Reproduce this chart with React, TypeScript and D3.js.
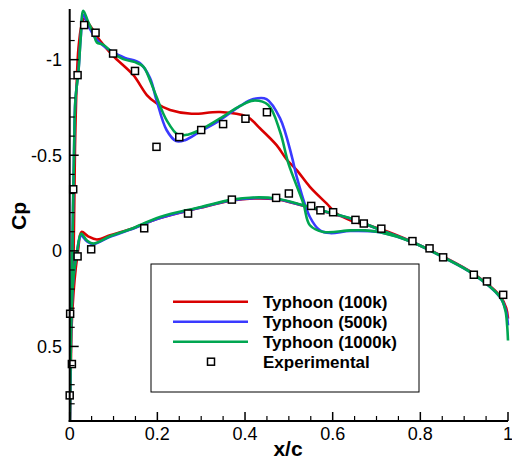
import React from "react";
import * as d3 from "d3";

type P = [number, number];

// x/c, Cp pairs, leading edge -> trailing edge
const typhoon100kUpper: P[] = [
  [0, 1.0], [0.004, 0.42], [0.009, 0.0], [0.012, -0.53], [0.016, -0.88], [0.02, -1.06],
  [0.027, -1.18], [0.033, -1.215], [0.046, -1.18], [0.069, -1.1], [0.099, -1.02],
  [0.145, -0.92], [0.176, -0.815], [0.198, -0.772], [0.229, -0.737], [0.278, -0.717],
  [0.343, -0.726], [0.404, -0.702], [0.434, -0.641], [0.472, -0.553], [0.495, -0.478],
  [0.518, -0.422], [0.548, -0.335], [0.586, -0.248], [0.609, -0.195], [0.64, -0.16],
  [0.71, -0.113], [0.781, -0.048], [0.852, 0.03], [0.922, 0.12], [0.982, 0.236],
  [0.996, 0.3], [1.0, 0.355],
];
const typhoon100kLower: P[] = [
  [0, 1.0], [0.004, 0.42], [0.011, 0.155], [0.019, 0.0], [0.027, -0.099], [0.042, -0.076],
  [0.062, -0.059], [0.092, -0.081], [0.138, -0.113], [0.206, -0.172], [0.297, -0.225],
  [0.37, -0.263], [0.419, -0.274], [0.471, -0.27], [0.533, -0.236], [0.601, -0.193],
  [0.651, -0.16], [0.71, -0.11], [0.781, -0.046], [0.852, 0.03], [0.922, 0.12],
  [0.982, 0.236], [0.996, 0.3], [1.0, 0.355],
];
const typhoon500kUpper: P[] = [
  [0, 1.0], [0.003, 0.42], [0.006, 0.0], [0.01, -0.53], [0.013, -0.79], [0.02, -0.94],
  [0.025, -1.11], [0.031, -1.235], [0.042, -1.18], [0.062, -1.104], [0.099, -1.039],
  [0.126, -1.009], [0.16, -0.982], [0.183, -0.905], [0.198, -0.789], [0.221, -0.632],
  [0.243, -0.574], [0.263, -0.579], [0.297, -0.623], [0.343, -0.684], [0.389, -0.758],
  [0.419, -0.794], [0.449, -0.794], [0.48, -0.693], [0.507, -0.492], [0.518, -0.387],
  [0.548, -0.177], [0.571, -0.107], [0.594, -0.093], [0.64, -0.104], [0.708, -0.097],
  [0.781, -0.046], [0.852, 0.033], [0.922, 0.123], [0.982, 0.242], [0.995, 0.31], [1.0, 0.39],
];
const typhoon500kLower: P[] = [
  [0, 1.0], [0.003, 0.42], [0.008, 0.155], [0.017, 0.0], [0.026, -0.08], [0.039, -0.05],
  [0.054, -0.035], [0.092, -0.074], [0.138, -0.111], [0.206, -0.172], [0.297, -0.225],
  [0.37, -0.265], [0.419, -0.276], [0.471, -0.271], [0.533, -0.237], [0.601, -0.194],
  [0.651, -0.161], [0.71, -0.108], [0.781, -0.046], [0.852, 0.033], [0.922, 0.123],
  [0.982, 0.242], [0.995, 0.31], [1.0, 0.39],
];
const typhoon1000kUpper: P[] = [
  [0, 1.0], [0.003, 0.42], [0.006, 0.0], [0.01, -0.53], [0.013, -0.79], [0.02, -0.94],
  [0.025, -1.113], [0.031, -1.256], [0.042, -1.198], [0.054, -1.139], [0.062, -1.09],
  [0.077, -1.078], [0.099, -1.034], [0.122, -1.003], [0.149, -0.987], [0.168, -0.964],
  [0.183, -0.894], [0.198, -0.806], [0.221, -0.684], [0.248, -0.606], [0.271, -0.609],
  [0.297, -0.632], [0.343, -0.693], [0.389, -0.758], [0.419, -0.786], [0.453, -0.763],
  [0.48, -0.623], [0.499, -0.457], [0.533, -0.248], [0.548, -0.134], [0.579, -0.099],
  [0.64, -0.107], [0.674, -0.107], [0.708, -0.097], [0.781, -0.046], [0.852, 0.033],
  [0.922, 0.123], [0.982, 0.242], [0.994, 0.312], [0.998, 0.39], [1.0, 0.469],
];
const typhoon1000kLower: P[] = [
  [0, 1.0], [0.003, 0.42], [0.008, 0.155], [0.017, 0.0], [0.026, -0.09], [0.039, -0.055],
  [0.054, -0.038], [0.092, -0.076], [0.138, -0.113], [0.206, -0.177], [0.297, -0.228],
  [0.37, -0.268], [0.419, -0.279], [0.471, -0.274], [0.533, -0.239], [0.601, -0.195],
  [0.651, -0.162], [0.71, -0.108], [0.781, -0.046], [0.852, 0.033], [0.922, 0.123],
  [0.982, 0.242], [0.994, 0.312], [0.998, 0.39], [1.0, 0.469],
];

const expX = [
  0.033, 0.059, 0.099, 0.149, 0.018, 0.198, 0.25, 0.3, 0.35, 0.401, 0.45,
  0.008, 0.018, 0.049, 0.17, 0.001, 0.005, 0.0,
  0.27, 0.37, 0.471, 0.5, 0.551, 0.572, 0.601, 0.652, 0.671, 0.711, 0.782, 0.821,
  0.852, 0.922, 0.952, 0.989,
];
const expCp = [
  -1.181, -1.141, -1.032, -0.941, -0.919, -0.544, -0.595, -0.632, -0.663, -0.691, -0.725,
  -0.322, 0.029, -0.008, -0.118, 0.329, 0.592, 0.756,
  -0.195, -0.268, -0.277, -0.3, -0.235, -0.212, -0.202, -0.162, -0.143, -0.116, -0.051,
  -0.013, 0.034, 0.125, 0.16, 0.23,
];

const xTicks = [0, 0.2, 0.4, 0.6, 0.8, 1];
const yTicks = [-1, -0.5, 0, 0.5];
const seriesNames = ["Typhoon (100k)", "Typhoon (500k)", "Typhoon (1000k)"];
const seriesColors = ["#d90000", "#3a3aff", "#00a651"];
const expName = "Experimental";

const FONT = "'Liberation Sans', Arial, Helvetica, sans-serif";

export default function App() {
  const L = 69.7, R = 508, T = 9, B = 421;
  const x = d3.scaleLinear().domain([0, 1]).range([L, R]);
  const y = d3.scaleLinear().domain([-1.265, 0.89]).range([T, B]);
  const line = d3
    .line<P>()
    .x((d) => x(d[0]))
    .y((d) => y(d[1]))
    .curve(d3.curveCatmullRom.alpha(0.5));

  const series = [
    [typhoon100kUpper, typhoon100kLower],
    [typhoon500kUpper, typhoon500kLower],
    [typhoon1000kUpper, typhoon1000kLower],
  ];

  const xMinor = d3.range(0, 1.0001, 0.05).filter((v) => Math.abs(v * 5 - Math.round(v * 5)) > 1e-6);
  const yMinor = d3.range(-1.2, 0.85, 0.1).filter((v) => Math.abs(v * 2 - Math.round(v * 2)) > 1e-6);
  const fmt = (v: number) => String(v).replace("\u2212", "-");

  const legendRows = [301.7, 321.7, 341.7];

  return (
    <svg width={512} height={463} style={{ position: "absolute", left: 0, top: 0, background: "#fff" }} fontFamily={FONT}>
      <defs>
        <clipPath id="plot">
          <rect x={L} y={T} width={R - L + 3} height={B - T} />
        </clipPath>
      </defs>
      <g clipPath="url(#plot)">
        {series.map(([up, lo], i) => (
          <path
            key={i}
            d={line([...up].reverse().concat(lo.slice(1))) || ""}
            fill="none"
            stroke={seriesColors[i]}
            strokeWidth={2.6}
            strokeLinejoin="round"
          />
        ))}
      </g>
      {expX.map((v, i) => (
        <rect key={i} x={x(v) - 3.5} y={y(expCp[i]) - 3.5} width={7} height={7} fill="#fff" stroke="#000" strokeWidth={1.5} />
      ))}
      {/* axes */}
      <line x1={L} x2={L} y1={T} y2={B + 1} stroke="#000" strokeWidth={2} />
      <line x1={L - 1} x2={R} y1={B} y2={B} stroke="#000" strokeWidth={2} />
      {xTicks.map((v) => (
        <g key={"xt" + v}>
          <line x1={x(v)} x2={x(v)} y1={B} y2={B - 9} stroke="#000" strokeWidth={1.5} />
          <text x={x(v)} y={440} textAnchor="middle" fontSize={18}>{fmt(v)}</text>
        </g>
      ))}
      {xMinor.map((v) => (
        <line key={"xm" + v} x1={x(v)} x2={x(v)} y1={B} y2={B - 5} stroke="#000" strokeWidth={1.2} />
      ))}
      {yTicks.map((v) => (
        <g key={"yt" + v}>
          <line x1={L} x2={L + 9} y1={y(v)} y2={y(v)} stroke="#000" strokeWidth={1.5} />
          <text x={62} y={y(v)} dy="0.35em" textAnchor="end" fontSize={18}>{fmt(v)}</text>
        </g>
      ))}
      {yMinor.map((v) => (
        <line key={"ym" + v} x1={L} x2={L + 5} y1={y(v)} y2={y(v)} stroke="#000" strokeWidth={1.2} />
      ))}
      <text x={288} y={456} textAnchor="middle" fontSize={21} fontWeight="bold">x/c</text>
      <text transform="translate(26,216) rotate(-90)" textAnchor="middle" fontSize={21} fontWeight="bold">Cp</text>
      {/* legend */}
      <rect x={151} y={264} width={268} height={128} fill="#fff" stroke="#000" strokeWidth={1} />
      {seriesNames.map((n, i) => (
        <g key={n}>
          <line x1={173} x2={248} y1={legendRows[i]} y2={legendRows[i]} stroke={seriesColors[i]} strokeWidth={2.6} />
          <text x={263} y={legendRows[i]} dy="0.35em" fontSize={17} fontWeight="bold">{n}</text>
        </g>
      ))}
      <rect x={207.5} y={358.2} width={7} height={7} fill="#fff" stroke="#000" strokeWidth={1.5} />
      <text x={263} y={361.7} dy="0.35em" fontSize={17} fontWeight="bold">{expName}</text>
    </svg>
  );
}
